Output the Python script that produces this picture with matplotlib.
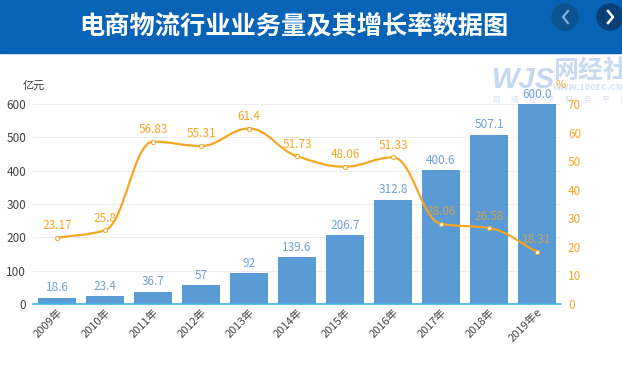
import matplotlib
matplotlib.use('Agg')
import numpy as np
import matplotlib.pyplot as plt
from matplotlib.patches import Rectangle, Circle, PathPatch
from matplotlib.path import Path

plt.rcParams['font.family'] = ['Noto Sans CJK SC', 'DejaVu Sans']

years = ['2009年', '2010年', '2011年', '2012年', '2013年', '2014年',
         '2015年', '2016年', '2017年', '2018年', '2019年e']
volume = [18.6, 23.4, 36.7, 57, 92, 139.6, 206.7, 312.8, 400.6, 507.1, 600.0]
volume_labels = ['18.6', '23.4', '36.7', '57', '92', '139.6', '206.7',
                 '312.8', '400.6', '507.1', '600.0']
growth = [23.17, 25.8, 56.83, 55.31, 61.4, 51.73, 48.06, 51.33, 28.06, 26.58, 18.31]
growth_labels = ['23.17', '25.8', '56.83', '55.31', '61.4', '51.73', '48.06',
                 '51.33', '28.06', '26.58', '18.31']
left_ticks = [0, 100, 200, 300, 400, 500, 600]
right_ticks = [0, 10, 20, 30, 40, 50, 60, 70]

W, H = 622, 367
BLUE = '#5b9bd5'
ORANGE = '#f5a623'

fig = plt.figure(figsize=(W / 100, H / 100), dpi=100, facecolor='white')

# header band
fig.patches.append(Rectangle((0, 1 - 53 / H), 1, 53 / H, transform=fig.transFigure,
                             color='#0663b5', zorder=0))
fig.text(294 / W, 1 - 26 / H, '电商物流行业业务量及其增长率数据图', color='white',
         fontsize=18.2, fontweight='bold', ha='center', va='center')

# nav buttons
over = fig.add_axes([0, 0, 1, 1], zorder=1)
over.set_xlim(0, W)
over.set_ylim(H, 0)
over.axis('off')
over.add_patch(Circle((565, 17), 13, color='#0c548f'))
over.add_patch(Circle((610, 17), 13, color='#0a3f78'))
over.plot([568, 563, 568], [11, 17, 23], color='#7fb2dc', lw=1.6)
over.plot([608, 613, 608], [11, 17, 23], color='white', lw=1.8)

# watermark
over.text(492, 88, 'WJS', color='#c3d8f0', fontsize=21, style='italic', fontweight='bold',
          family='Liberation Sans', ha='left', va='baseline')
over.text(553, 71, '网经社', color='#c8daf0', fontsize=18, fontweight='bold',
          ha='left', va='center')
over.text(553, 88, 'WWW.100EC.CN', color='#d5e2f2', fontsize=6.5, fontweight='bold',
          ha='left', va='center')
for i, ch in enumerate('网络经济服务平台'):
    over.text(496 + i * 18.2, 100, ch, color='#d5e2f2', fontsize=5.5,
              ha='center', va='center')

ax = fig.add_axes([33 / W, 1 - 304 / H, 528 / W, 200 / H], zorder=2)
ax.patch.set_alpha(0)
x = np.arange(len(years))
ax.bar(x, volume, width=0.79, color=BLUE, zorder=2)
ax.set_xlim(-0.5, len(years) - 0.5)
ax.set_ylim(0, 600)
ax.set_yticks(left_ticks)
ax.set_xticks(x)
ax.set_xticklabels(years, rotation=45, ha='right', rotation_mode='anchor',
                   fontsize=8, color='#444444')
ax.tick_params(axis='x', length=0, pad=2)
ax.tick_params(axis='y', length=0, pad=5, labelsize=8.5, labelcolor='#444444')
ax.grid(axis='y', color='#eeeeee', lw=0.8, zorder=0)
ax.set_axisbelow(True)
for s in ['top', 'left', 'right']:
    ax.spines[s].set_visible(False)
ax.spines['bottom'].set_color('#3cb4e6')
ax.spines['bottom'].set_linewidth(1.2)
for xi, v, lab in zip(x, volume, volume_labels):
    ax.annotate(lab, (xi, v), xytext=(0, 2.5), textcoords='offset points', ha='center',
                va='bottom', fontsize=8.5, color='#6fa1d6', zorder=4)
fig.text(34 / W, 1 - 86 / H, '亿元', fontsize=8, color='#333333', ha='center', va='center')

ax2 = ax.twinx()
ax2.patch.set_alpha(0)
ax2.set_ylim(0, 70)
ax2.set_yticks(right_ticks)
ax2.tick_params(axis='y', length=0, pad=5, labelsize=8.5, labelcolor=ORANGE)
for s in ax2.spines.values():
    s.set_visible(False)
fig.text(561 / W, 1 - 85 / H, '%', fontsize=8, color=ORANGE, ha='center', va='center')

# smoothed growth line, harmonic-mean slopes so it does not overshoot the values
g = np.array(growth)
d = np.diff(g)
m = np.zeros(len(g))
m[0] = d[0]
m[-1] = d[-1]
for i in range(1, len(g) - 1):
    if d[i - 1] * d[i] > 0:
        m[i] = 2 * d[i - 1] * d[i] / (d[i - 1] + d[i])
verts = [(x[0], g[0])]
codes = [Path.MOVETO]
for i in range(len(g) - 1):
    verts += [(x[i] + 0.4, g[i] + 0.4 * m[i]), (x[i + 1] - 0.4, g[i + 1] - 0.4 * m[i + 1]),
              (x[i + 1], g[i + 1])]
    codes += [Path.CURVE4, Path.CURVE4, Path.CURVE4]
ax2.add_patch(PathPatch(Path(verts, codes), fc='none', ec=ORANGE, lw=1.6, zorder=3))
ax2.plot(x, g, ls='none', marker='o', ms=3, mfc='white', mec=ORANGE, mew=0.7, zorder=4)
for xi, v, lab in zip(x, g, growth_labels):
    ax2.annotate(lab, (xi, v), xytext=(0, 4), textcoords='offset points', ha='center',
                 va='bottom', fontsize=8.5, color=ORANGE if xi < 8 else '#c9a25a', zorder=5)

fig.savefig('out.png', dpi=100)
